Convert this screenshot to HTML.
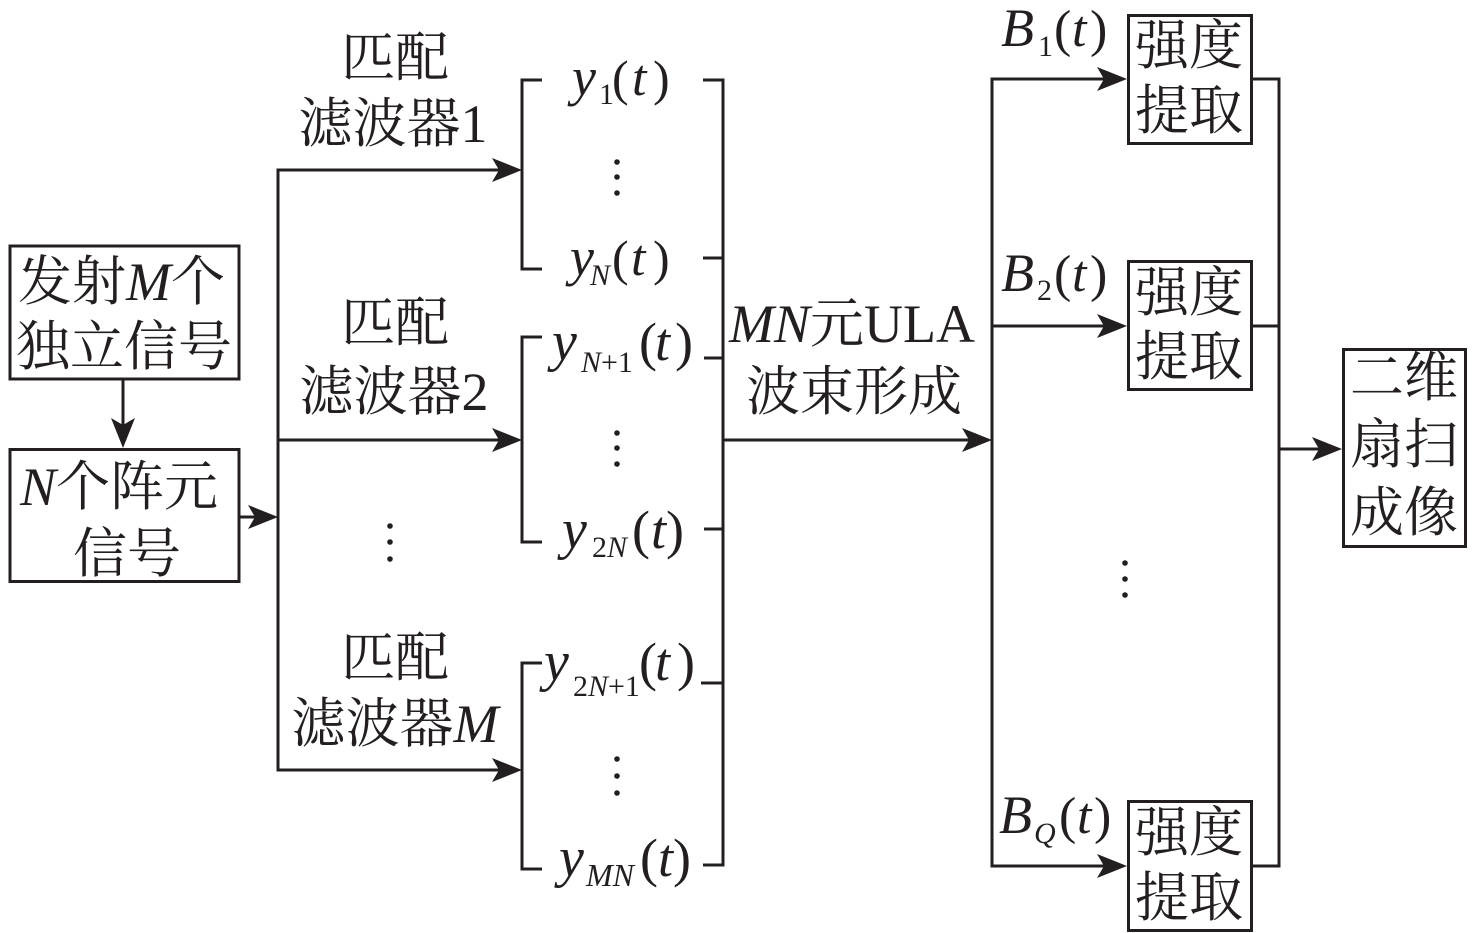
<!DOCTYPE html>
<html>
<head>
<meta charset="utf-8">
<style>
  html,body{margin:0;padding:0;background:#fff;}
  svg{display:block;}
  .cn{font-family:"Liberation Serif","Noto Serif CJK SC",serif;font-size:54px;fill:#231f20;}
  .m{font-family:"Liberation Serif","Noto Serif CJK SC",serif;fill:#231f20;}
  .i{font-style:italic;}
</style>
</head>
<body>
<svg width="1476" height="933" viewBox="0 0 1476 933" xmlns="http://www.w3.org/2000/svg">
  <defs>
    <path id="ah" d="M0,0 L-30,-12 L-23,0 L-30,12 Z" fill="#231f20"/>
  </defs>
  <g stroke="#231f20" stroke-width="3" fill="none">
    <rect x="10" y="246" width="229" height="133"/>
    <rect x="10" y="449.5" width="229" height="132"/>
    <line x1="123" y1="380" x2="123" y2="425"/>
    <line x1="240" y1="517" x2="260" y2="517"/>
    <line x1="278" y1="168.5" x2="278" y2="771.5"/>
    <line x1="278" y1="170" x2="500" y2="170"/>
    <line x1="278" y1="440" x2="500" y2="440"/>
    <line x1="278" y1="770" x2="500" y2="770"/>
    <polyline points="542,80 522,80 522,269 542,269"/>
    <polyline points="542,337 522,337 522,542 542,542"/>
    <polyline points="542,663 522,663 522,869 542,869"/>
    <line x1="703" y1="80" x2="723" y2="80"/>
    <line x1="703" y1="258" x2="723" y2="258"/>
    <line x1="704" y1="358" x2="723" y2="358"/>
    <line x1="704" y1="529" x2="723" y2="529"/>
    <line x1="701" y1="683" x2="723" y2="683"/>
    <line x1="703" y1="865" x2="723" y2="865"/>
    <line x1="723" y1="78.5" x2="723" y2="866.5"/>
    <line x1="723" y1="440" x2="970" y2="440"/>
    <line x1="992" y1="77.5" x2="992" y2="867.5"/>
    <line x1="992" y1="79" x2="1105" y2="79"/>
    <line x1="992" y1="326" x2="1105" y2="326"/>
    <line x1="992" y1="866" x2="1105" y2="866"/>
    <rect x="1128.5" y="15.5" width="123" height="128"/>
    <rect x="1128.5" y="261.5" width="123" height="128"/>
    <rect x="1128.5" y="801.5" width="123" height="129"/>
    <line x1="1253" y1="79" x2="1279" y2="79"/>
    <line x1="1253" y1="326" x2="1279" y2="326"/>
    <line x1="1253" y1="866" x2="1279" y2="866"/>
    <line x1="1279" y1="77.5" x2="1279" y2="867.5"/>
    <line x1="1279" y1="449" x2="1320" y2="449"/>
    <rect x="1343.5" y="349.5" width="122" height="197"/>
  </g>
  <use href="#ah" transform="translate(123,448) rotate(90)"/>
  <use href="#ah" transform="translate(278,517)"/>
  <use href="#ah" transform="translate(522,170)"/>
  <use href="#ah" transform="translate(522,440)"/>
  <use href="#ah" transform="translate(522,770)"/>
  <use href="#ah" transform="translate(992,440)"/>
  <use href="#ah" transform="translate(1127,79)"/>
  <use href="#ah" transform="translate(1127,326)"/>
  <use href="#ah" transform="translate(1127,866)"/>
  <use href="#ah" transform="translate(1342,449)"/>

  <g fill="#231f20">
    <circle cx="390" cy="526" r="2.8"/><circle cx="390" cy="542" r="2.8"/><circle cx="390" cy="559" r="2.8"/>
    <circle cx="617" cy="162" r="2.8"/><circle cx="617" cy="177" r="2.8"/><circle cx="617" cy="193" r="2.8"/>
    <circle cx="617" cy="433" r="2.8"/><circle cx="617" cy="448" r="2.8"/><circle cx="617" cy="464" r="2.8"/>
    <circle cx="617" cy="759" r="2.8"/><circle cx="617" cy="776" r="2.8"/><circle cx="617" cy="793" r="2.8"/>
    <circle cx="1125" cy="563" r="2.8"/><circle cx="1125" cy="579" r="2.8"/><circle cx="1125" cy="595" r="2.8"/>
  </g>

  <text class="cn" x="18" y="300">发射<tspan class="i">M</tspan>个</text>
  <text class="cn" x="124" y="365" text-anchor="middle">独立信号</text>
  <text class="cn" x="20" y="505"><tspan class="i">N</tspan>个阵元</text>
  <text class="cn" x="127" y="572" text-anchor="middle">信号</text>

  <text class="cn" x="395" y="76" text-anchor="middle">匹配</text>
  <text class="cn" x="393" y="142" text-anchor="middle">滤波器1</text>
  <text class="cn" x="395" y="341" text-anchor="middle">匹配</text>
  <text class="cn" x="394" y="410" text-anchor="middle">滤波器2</text>
  <text class="cn" x="395" y="676" text-anchor="middle">匹配</text>
  <text class="cn" x="395" y="742" text-anchor="middle">滤波器<tspan class="i">M</tspan></text>

  <text class="cn" x="729" y="342"><tspan class="i">MN</tspan>元ULA</text>
  <text class="cn" x="854" y="410" text-anchor="middle">波束形成</text>

  <g class="m">
    <text x="572" y="95" font-size="54" class="i">y</text>
    <text x="599" y="104" font-size="30">1</text>
    <text x="612" y="95" font-size="50">(</text>
    <text x="632" y="95" font-size="52" class="i">t</text>
    <text x="653" y="95" font-size="50">)</text>

    <text x="570" y="275" font-size="54" class="i">y</text>
    <text x="590" y="285" font-size="30" class="i">N</text>
    <text x="612" y="275" font-size="50">(</text>
    <text x="631" y="275" font-size="52" class="i">t</text>
    <text x="653" y="275" font-size="50">)</text>

    <text x="552" y="360" font-size="56" class="i">y</text>
    <text x="581" y="372" font-size="30"><tspan class="i">N</tspan>+1</text>
    <text x="639" y="360" font-size="54">(</text>
    <text x="655" y="360" font-size="54" class="i">t</text>
    <text x="675" y="360" font-size="54">)</text>

    <text x="562" y="548" font-size="56" class="i">y</text>
    <text x="592" y="557" font-size="30">2<tspan class="i">N</tspan></text>
    <text x="632" y="548" font-size="54">(</text>
    <text x="651" y="548" font-size="54" class="i">t</text>
    <text x="666" y="548" font-size="54">)</text>

    <text x="544" y="680" font-size="56" class="i">y</text>
    <text x="573" y="696" font-size="30">2<tspan class="i">N</tspan>+1</text>
    <text x="639" y="680" font-size="54">(</text>
    <text x="655" y="680" font-size="54" class="i">t</text>
    <text x="677" y="680" font-size="54">)</text>

    <text x="559" y="876" font-size="56" class="i">y</text>
    <text x="586" y="886" font-size="32" class="i">MN</text>
    <text x="640" y="876" font-size="54">(</text>
    <text x="658" y="876" font-size="54" class="i">t</text>
    <text x="673" y="876" font-size="54">)</text>

    <text x="1001" y="46" font-size="54" class="i">B</text>
    <text x="1038" y="56" font-size="30">1</text>
    <text x="1054" y="46" font-size="52">(</text>
    <text x="1072" y="46" font-size="52" class="i">t</text>
    <text x="1090" y="46" font-size="52">)</text>

    <text x="1001" y="291" font-size="54" class="i">B</text>
    <text x="1037" y="300" font-size="30">2</text>
    <text x="1054" y="291" font-size="52">(</text>
    <text x="1072" y="291" font-size="52" class="i">t</text>
    <text x="1090" y="291" font-size="52">)</text>

    <text x="999" y="833" font-size="54" class="i">B</text>
    <text x="1034" y="843" font-size="30" class="i">Q</text>
    <text x="1059" y="833" font-size="52">(</text>
    <text x="1077" y="833" font-size="52" class="i">t</text>
    <text x="1094" y="833" font-size="52">)</text>
  </g>

  <text class="cn" x="1189" y="64" text-anchor="middle">强度</text>
  <text class="cn" x="1189" y="129" text-anchor="middle">提取</text>
  <text class="cn" x="1189" y="311" text-anchor="middle">强度</text>
  <text class="cn" x="1189" y="375" text-anchor="middle">提取</text>
  <text class="cn" x="1189" y="851" text-anchor="middle">强度</text>
  <text class="cn" x="1189" y="916" text-anchor="middle">提取</text>

  <text class="cn" x="1404" y="396" text-anchor="middle">二维</text>
  <text class="cn" x="1404" y="463" text-anchor="middle">扇扫</text>
  <text class="cn" x="1404" y="531" text-anchor="middle">成像</text>
</svg>
</body>
</html>
